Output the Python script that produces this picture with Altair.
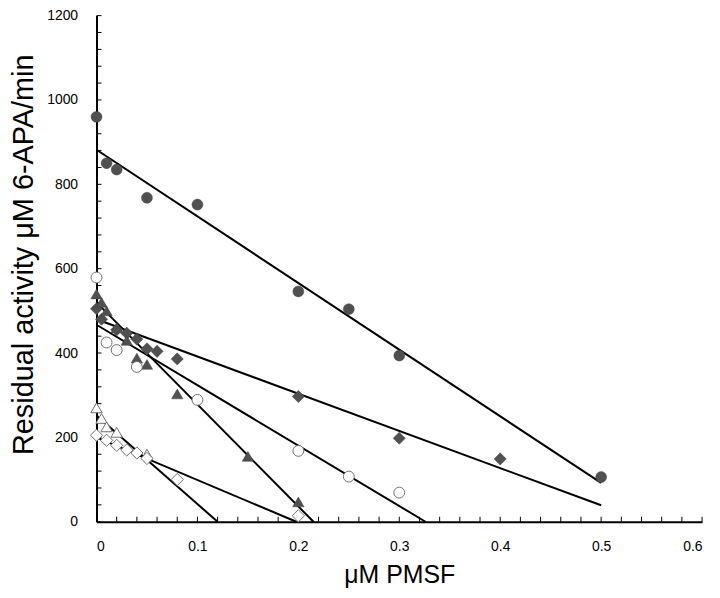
import altair as alt
import pandas as pd

# ---- data ----
circ_f_x = [0, 0.01, 0.02, 0.05, 0.1, 0.2, 0.25, 0.3, 0.5]
circ_f_y = [960, 850, 835, 768, 752, 546, 504, 394, 106]

diam_f_x = [0, 0.005, 0.02, 0.03, 0.04, 0.05, 0.06, 0.08, 0.2, 0.3, 0.4]
diam_f_y = [505, 480, 455, 447, 433, 410, 404, 386, 297, 198, 149]

tri_f_x = [0, 0.005, 0.01, 0.02, 0.03, 0.04, 0.05, 0.08, 0.15, 0.2]
tri_f_y = [540, 520, 500, 460, 430, 388, 373, 303, 155, 47]

circ_o_x = [0, 0.01, 0.02, 0.04, 0.1, 0.2, 0.25, 0.3]
circ_o_y = [579, 425, 407, 367, 289, 168, 107, 69]

tri_o_x = [0, 0.005, 0.01, 0.02, 0.05]
tri_o_y = [270, 245, 225, 212, 160]

diam_o_x = [0, 0.01, 0.02, 0.03, 0.04, 0.05, 0.08, 0.2]
diam_o_y = [205, 193, 181, 170, 163, 150, 100, 14]

# fitted lines: (x_start, y_start, x_end, y_end)
fit_series = ["circ_f", "diam_f", "tri_f", "circ_o", "tri_o", "diam_o"]
fit_x0 = [0, 0, 0, 0, 0, 0]
fit_y0 = [882, 480, 520, 467, 252, 200]
fit_x1 = [0.5, 0.5, 0.215, 0.326, 0.12, 0.198]
fit_y1 = [92, 39, 0, 0, 0, 0]

x_ticks = [round(i * 0.02, 2) for i in range(31)]
y_ticks = [i * 40 for i in range(31)]
x_labels = [0, 0.1, 0.2, 0.3, 0.4, 0.5, 0.6]
y_labels = [0, 200, 400, 600, 800, 1000, 1200]

W, H = 609, 509
FONT = "Liberation Sans"

xs = alt.Scale(domain=[0, 0.6], nice=False, zero=False)
ys = alt.Scale(domain=[0, 1200], nice=False, zero=False)
xaxis = alt.Axis(values=x_labels, title="\u03bcM PMSF",
                 labelExpr="datum.value == 0 ? '0' : format(datum.value, '.1f')")
yaxis = alt.Axis(values=y_labels, format="d",
                 title="Residual activity \u03bcM 6-APA/min", titleY=240)

# lines
rows = []
for s, a, b, c, d in zip(fit_series, fit_x0, fit_y0, fit_x1, fit_y1):
    rows.append({"s": s, "x": a, "y": b})
    rows.append({"s": s, "x": c, "y": d})
lines_df = pd.DataFrame(rows)

lines = alt.Chart(lines_df).mark_line(color="black", strokeWidth=2).encode(
    x=alt.X("x:Q", scale=xs, axis=xaxis),
    y=alt.Y("y:Q", scale=ys, axis=yaxis),
    detail="s:N",
)

def pts(xv, yv, shape, filled, size):
    df = pd.DataFrame({"x": xv, "y": yv})
    if filled:
        m = alt.Chart(df).mark_point(shape=shape, filled=True, fill="#505050",
                                     stroke="#404040", strokeWidth=0.5,
                                     opacity=1, size=size)
    else:
        m = alt.Chart(df).mark_point(shape=shape, filled=False, fill="white",
                                     fillOpacity=1, stroke="#707070",
                                     strokeWidth=1, opacity=1, size=size)
    return m.encode(x=alt.X("x:Q", scale=xs, axis=xaxis),
                    y=alt.Y("y:Q", scale=ys, axis=yaxis))

layers = [
    pts(circ_f_x, circ_f_y, "circle", True, 120),
    pts(diam_f_x, diam_f_y, "diamond", True, 150),
    pts(tri_f_x, tri_f_y, "triangle-up", True, 130),
    pts(circ_o_x, circ_o_y, "circle", False, 120),
    pts(tri_o_x, tri_o_y, "triangle-up", False, 130),
    pts(diam_o_x, diam_o_y, "diamond", False, 150),
]

xt = alt.Chart(pd.DataFrame({"x": x_ticks})).mark_rule(color="black", strokeWidth=1).encode(
    x=alt.X("x:Q", scale=xs, axis=xaxis), y=alt.value(H), y2=alt.value(H - 5))
yt = alt.Chart(pd.DataFrame({"y": y_ticks})).mark_rule(color="black", strokeWidth=1).encode(
    y=alt.Y("y:Q", scale=ys, axis=yaxis), x=alt.value(0), x2=alt.value(5))

chart = alt.layer(lines, xt, yt, *layers).properties(
    width=W, height=H,
    autosize=alt.AutoSizeParams(type="none"),
    padding={"left": 89, "top": 6, "right": 10, "bottom": 67},
).configure_view(stroke=None).configure_axis(
    domainColor="black", domainWidth=2, ticks=False, tickSize=0, grid=False,
    labelFont=FONT, labelFontSize=14, labelColor="black",
    titleFont=FONT, titleFontWeight="normal", titleColor="black",
).configure_axisX(
    labelPadding=18, titleFontSize=25, titlePadding=9,
).configure_axisY(
    labelPadding=19, titleFontSize=29, titlePadding=8,
)

chart.save("out.html", embed_options={"renderer": "svg", "actions": False})
